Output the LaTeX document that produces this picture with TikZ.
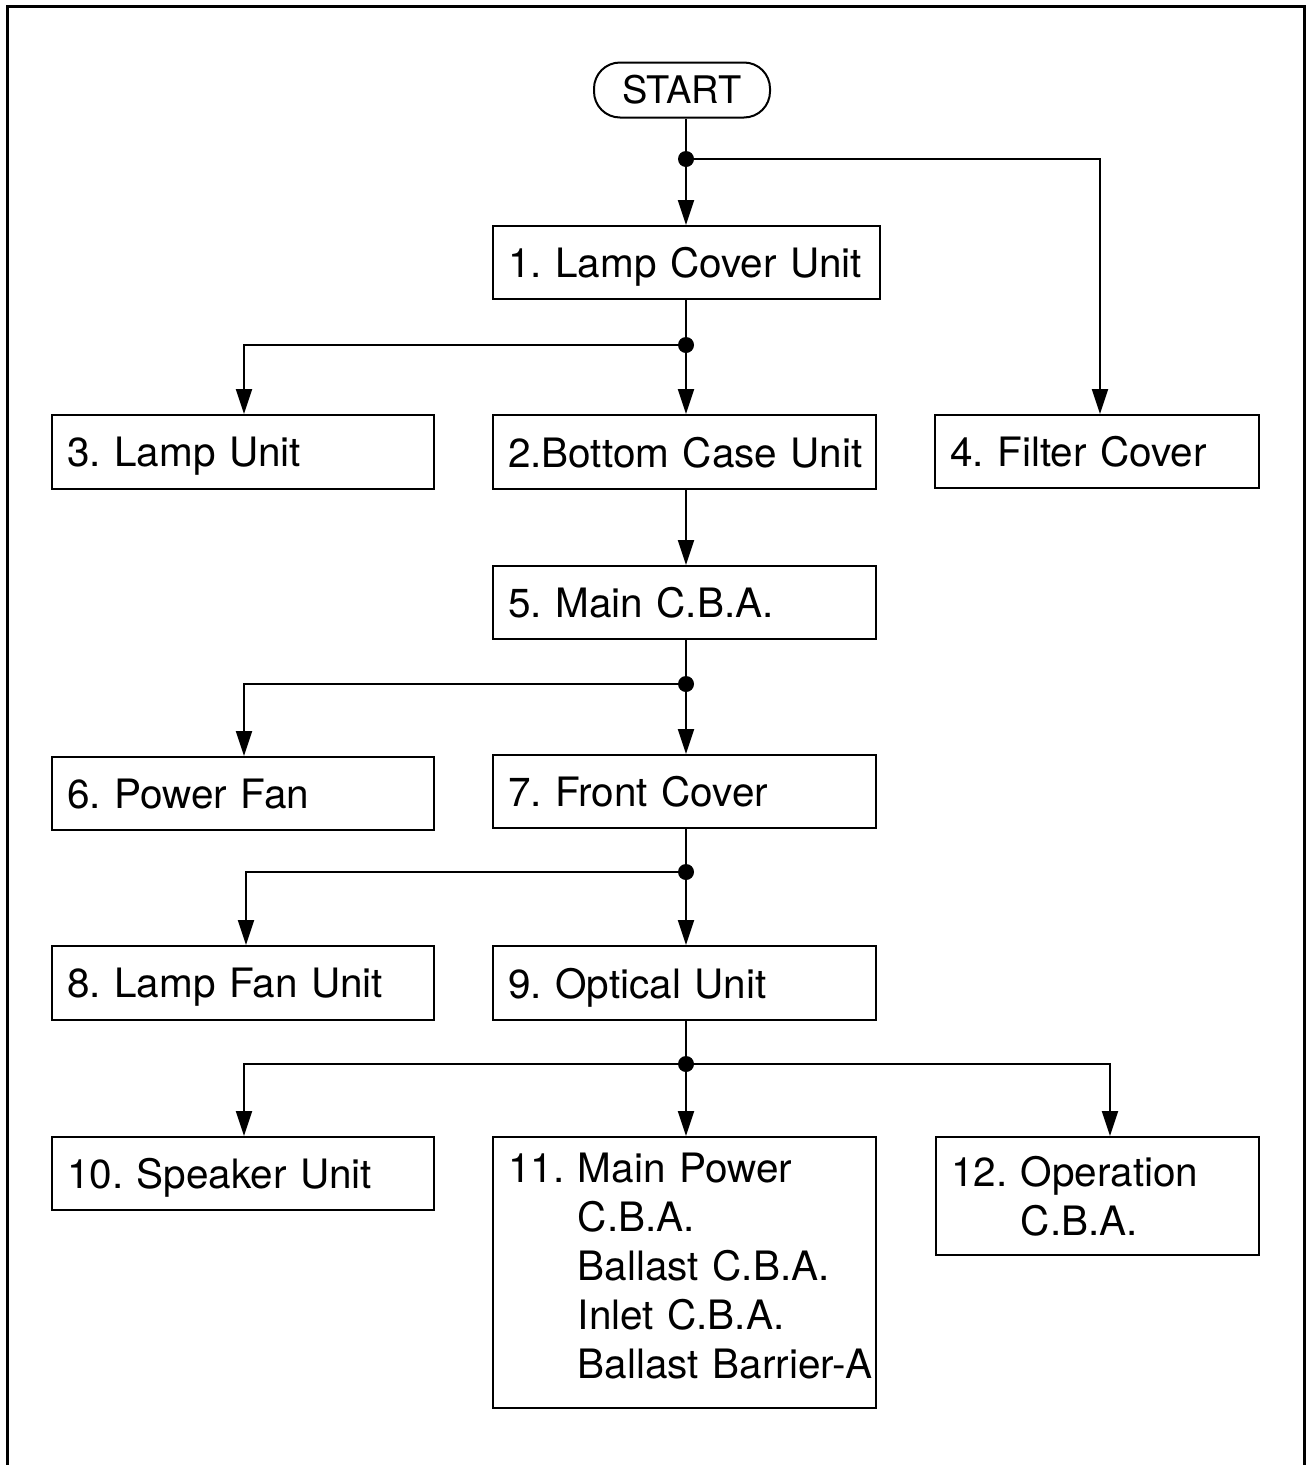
\documentclass[tikz,border=0pt]{standalone}
\usepackage{fontspec}
\setmainfont{TeX Gyre Heros}
\usetikzlibrary{arrows.meta}
\begin{document}
\frenchspacing
\begin{tikzpicture}[x=1pt,y=-1pt,
  box/.style={draw, line width=2pt, inner xsep=15pt, inner ysep=0pt, align=left,
     font=\fontsize{40.5}{49}\selectfont\frenchspacing},
  flat/.style={text depth=0pt},
  startbox/.style={draw, line width=2pt, rounded corners=26pt, inner sep=0pt,
     minimum width=176pt, minimum height=55pt, font=\fontsize{38}{44}\selectfont},
  conn/.style={line width=2pt, -{Triangle[length=25pt,width=16pt]}},
  plain/.style={line width=2pt},
  dot/.style={circle, fill, inner sep=0pt, minimum size=16pt}]
\useasboundingbox (0,0) rectangle (1313,1465);
\draw[line width=3pt] (7.5,1470) -- (7.5,6.5) -- (1304,6.5) -- (1304,1470);

\newcommand{\bx}[7][flat]{% [opts], name, x1, y1, x2, y2, text
  \node[box, #1, minimum width={#5-#3}, minimum height={#6-#4}, text width={#5-#3-30}]
    (#2) at ({(#3+#5)/2},{(#4+#6)/2}) {#7};}

\node[startbox] (start) at (682,90) {START};
\bx{b1}{493}{226}{880}{299}{\mbox{1. Lamp Cover Unit}}
\bx{b3}{52}{415}{434}{489}{\mbox{3. Lamp Unit}}
\bx{b2}{493}{415}{876}{489}{\mbox{2.Bottom Case Unit}}
\bx{b4}{935}{415}{1259}{488}{\mbox{4. Filter Cover}}
\bx{b5}{493}{566}{876}{639}{\mbox{5. Main C.B.A.}}
\bx{b6}{52}{757}{434}{830}{\mbox{6. Power Fan}}
\bx{b7}{493}{755}{876}{828}{\mbox{7. Front Cover}}
\bx{b8}{52}{946}{434}{1020}{\mbox{8. Lamp Fan Unit}}
\bx{b9}{493}{946}{876}{1020}{\mbox{9. Optical Unit}}
\bx{b10}{52}{1137}{434}{1210}{\mbox{10. Speaker Unit}}
\bx[]{b11}{493}{1137}{876}{1408}{\mbox{11. Main Power}\\\mbox{\phantom{11. }C.B.A.}\\\mbox{\phantom{11. }Ballast C.B.A.}\\\mbox{\phantom{11. }Inlet C.B.A.}\\\mbox{\phantom{11. }Ballast Barrier-A}\rule[-14pt]{0pt}{0pt}}
\bx[]{b12}{936}{1137}{1259}{1255}{\mbox{12. Operation}\\\mbox{\phantom{12. }C.B.A.}}

% junctions
\node[dot] (j0) at (686,159) {};
\node[dot] (j1) at (686,345) {};
\node[dot] (j2) at (686,684) {};
\node[dot] (j3) at (686,872) {};
\node[dot] (j4) at (686,1064) {};

\draw[plain] (start.south -| j0) -- (j0);
\draw[conn] (j0) -- (j0 |- b1.north);
\draw[conn] (j0) -| (1100,0 |- b4.north);

\draw[plain] (b1.south -| j1) -- (j1);
\draw[conn] (j1) -- (j1 |- b2.north);
\draw[conn] (j1) -| (244,0 |- b3.north);

\draw[conn] (b2.south -| j1) -- (b5.north -| j1);

\draw[plain] (b5.south -| j2) -- (j2);
\draw[conn] (j2) -- (j2 |- b7.north);
\draw[conn] (j2) -| (244,0 |- b6.north);

\draw[plain] (b7.south -| j3) -- (j3);
\draw[conn] (j3) -- (j3 |- b9.north);
\draw[conn] (j3) -| (246,0 |- b8.north);

\draw[plain] (b9.south -| j4) -- (j4);
\draw[conn] (j4) -- (j4 |- b11.north);
\draw[conn] (j4) -| (244,0 |- b10.north);
\draw[conn] (j4) -| (1110,0 |- b12.north);
\end{tikzpicture}
\end{document}
